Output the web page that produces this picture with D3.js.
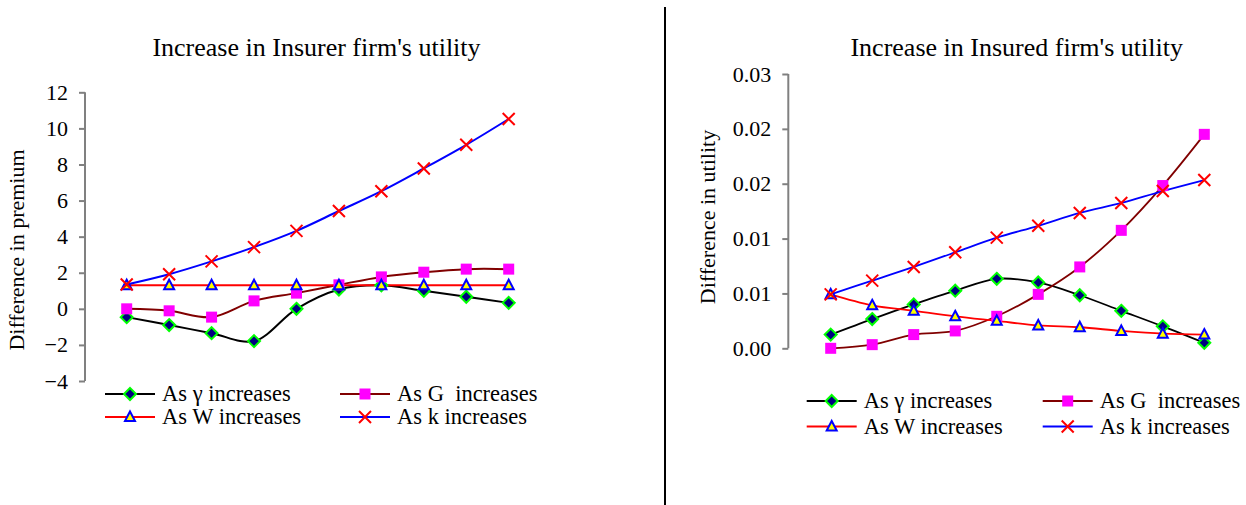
<!DOCTYPE html>
<html>
<head>
<meta charset="utf-8">
<script src="https://cdn.jsdelivr.net/npm/d3@7"></script>
<style>
  body { margin: 0; background: #fff; }
  svg { display: block; }
</style>
</head>
<body>
<script>
// data
let steps = [1,2,3,4,5,6,7,8,9,10];
let seriesNames = ['As \u03b3 increases', 'As G  increases', 'As W increases', 'As k increases'];

// left panel: difference in premium
let premGamma = [-0.46,-0.9,-1.35,-1.79,0,1.07,1.3,1.0,0.67,0.33];
let premG     = [0,-0.11,-0.46,0.44,0.87,1.33,1.77,2.03,2.2,2.2];
let premW     = [1.31,1.31,1.31,1.31,1.31,1.31,1.31,1.31,1.31,1.31];
let premK     = [1.35,1.92,2.63,3.42,4.32,5.42,6.52,7.78,9.09,10.52];
let premTicks = [-4,-2,0,2,4,6,8,10,12];

// right panel: difference in utility
let utilGamma = [0.0015,0.0032,0.0048,0.0063,0.0076,0.0072,0.0058,0.0041,0.0024,0.0006];
let utilG     = [0,0.0004,0.0015,0.0019,0.0035,0.0059,0.0089,0.0129,0.0178,0.0234];
let utilW     = [0.0059,0.0047,0.0041,0.0035,0.003,0.0025,0.0023,0.0019,0.0016,0.0015];
let utilK     = [0.0059,0.0074,0.0089,0.0105,0.0121,0.0134,0.0148,0.0159,0.0172,0.0184];
let utilTicks = [0,0.006,0.012,0.018,0.024,0.03];

const W = 1246, H = 505;
const FONT = 'Liberation Serif';

const svg = d3.select('body').append('svg')
    .attr('width', W)
    .attr('height', H)
    .attr('font-family', FONT);

// divider between the two charts
svg.append('line')
    .attr('x1', 665).attr('x2', 665)
    .attr('y1', 7).attr('y2', H)
    .attr('stroke', '#000').attr('stroke-width', 2);

let styles = [
  {line: '#000000', marker: 'diamond'},
  {line: '#800000', marker: 'square'},
  {line: '#ff0000', marker: 'triangle'},
  {line: '#0000ff', marker: 'cross'}
];

function drawMarker(g, type){
  if(type == 'diamond'){
    g.append('path').attr('d', 'M0,-6L6,0L0,6L-6,0Z')
      .attr('fill', '#000080').attr('stroke', '#00ff00').attr('stroke-width', 2);
  } else if(type == 'square'){
    g.append('rect').attr('x', -5.5).attr('y', -5.5).attr('width', 11).attr('height', 11)
      .attr('fill', '#ff00ff');
  } else if(type == 'triangle'){
    g.append('path').attr('d', 'M0,-5.5L5,4L-5,4Z')
      .attr('fill', '#ffff00').attr('stroke', '#0000ff').attr('stroke-width', 2);
  } else {
    g.append('path').attr('d', 'M-6,-6L6,6M-6,6L6,-6')
      .attr('stroke', '#ff0000').attr('stroke-width', 2).attr('fill', 'none');
  }
}

function panel(opt){
  let y = d3.scaleLinear().domain(opt.domain).range(opt.yRange);
  let x = d3.scalePoint().domain(steps).range(opt.xRange);

  let g = svg.append('g');

  // title
  g.append('text')
    .attr('x', opt.titleX).attr('y', 56)
    .attr('text-anchor', 'middle')
    .attr('font-family', FONT)
    .attr('font-size', 26)
    .text(opt.title);

  // y axis
  let axis = g.append('g')
    .attr('transform', `translate(${opt.axisX},0)`)
    .call(d3.axisLeft(y).tickValues(opt.ticks).tickSize(6).tickPadding(11).tickFormat(opt.fmt));
  axis.attr('font-family', FONT).attr('font-size', 22);
  axis.selectAll('path, line').attr('stroke', '#808080').attr('stroke-width', 2);
  axis.select('.domain').attr('d', `M0,${opt.yRange[0]}V${opt.yRange[1]}`);
  axis.selectAll('text').attr('fill', '#000');

  // axis title
  g.append('text')
    .attr('transform', `translate(${opt.ytX},${opt.ytY}) rotate(-90)`)
    .attr('text-anchor', 'middle')
    .attr('font-family', FONT)
    .attr('font-size', 22)
    .text(opt.yTitle);

  let line = d3.line()
    .x((d,i) => x(steps[i]))
    .y(d => y(d))
    .curve(d3.curveCatmullRom.alpha(0.5));

  // lines first, then markers on top
  opt.series.forEach((s,k) => {
    g.append('path')
      .attr('d', line(s))
      .attr('fill', 'none')
      .attr('stroke', styles[k].line)
      .attr('stroke-width', opt.lw);
  });
  opt.series.forEach((s,k) => {
    s.forEach((d,i) => {
      let m = g.append('g').attr('transform', `translate(${x(steps[i])},${y(d)})`);
      drawMarker(m, styles[k].marker);
    });
  });

  // legend, 2 x 2
  seriesNames.forEach((name,k) => {
    let lx = opt.legX[k % 2], ly = opt.legY[Math.floor(k / 2)];
    let lg = g.append('g').attr('transform', `translate(${lx},${ly})`);
    lg.append('line').attr('x1', 0).attr('x2', 50)
      .attr('stroke', styles[k].line).attr('stroke-width', 2);
    let m = lg.append('g').attr('transform', 'translate(25,0)');
    drawMarker(m, styles[k].marker);
    lg.append('text')
      .attr('x', 57).attr('y', 7)
      .attr('font-family', FONT)
      .attr('font-size', 22.5)
      .style('white-space', 'pre')
      .text(name);
  });
}

panel({
  title: "Increase in Insurer firm's utility", titleX: 316.5,
  domain: [-4, 12], yRange: [381, 92.3], xRange: [126.7, 508.7],
  axisX: 85, ticks: premTicks, fmt: d3.format('d'),
  yTitle: 'Difference in premium', ytX: 24, ytY: 250,
  series: [premGamma, premG, premW, premK], lw: 2,
  legX: [105, 340], legY: [394, 417]
});

panel({
  title: "Increase in Insured firm's utility", titleX: 1016.7,
  domain: [0, 0.03], yRange: [348.3, 74], xRange: [830.7, 1204.3],
  axisX: 788.3, ticks: utilTicks, fmt: d3.format('.2f'),
  yTitle: 'Difference in utility', ytX: 715, ytY: 217,
  series: [utilGamma, utilG, utilW, utilK], lw: 1.8,
  legX: [806.7, 1042.7], legY: [401, 426.5]
});
</script>
</body>
</html>
